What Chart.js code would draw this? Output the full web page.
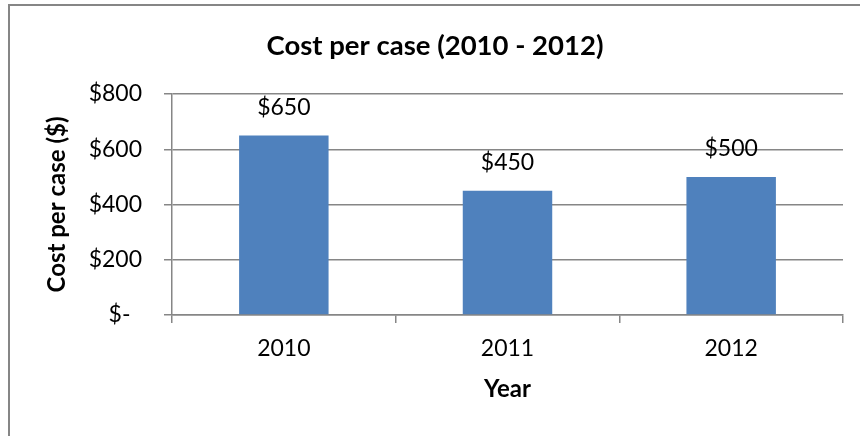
<!DOCTYPE html>
<html>
<head>
<meta charset="utf-8">
<script src="https://cdn.jsdelivr.net/npm/chart.js@4.4.1/dist/chart.umd.min.js"></script>
<style>
  html, body { margin: 0; padding: 0; background: #fff; }
  canvas { display: block; }
</style>
</head>
<body>
<canvas id="c" width="860" height="436"></canvas>
<script>
const years = ['2010', '2011', '2012'];
const costPerCase = [650, 450, 500];
const yTickValues = [0, 200, 400, 600, 800];

const FONT = "Lato, 'Open Sans', sans-serif";
const LINE = '#868686';
const BAR = '#4F81BD';

function money(v) {
  return v === 0 ? '$-\u2002' : '$' + v;
}

// white background plus the chart frame (left and top edges fall inside the canvas)
const frame = {
  id: 'frame',
  beforeDraw(chart) {
    const ctx = chart.ctx;
    ctx.save();
    ctx.fillStyle = '#fff';
    ctx.fillRect(0, 0, chart.width, chart.height);
    ctx.strokeStyle = LINE;
    ctx.lineWidth = 2;
    ctx.strokeRect(9, 5, chart.width + 20, chart.height + 20);
    ctx.restore();
  }
};

// value labels above each bar
const valueLabels = {
  id: 'valueLabels',
  afterDatasetsDraw(chart) {
    const ctx = chart.ctx;
    const meta = chart.getDatasetMeta(0);
    const data = chart.data.datasets[0].data;
    ctx.save();
    ctx.font = '23px ' + FONT;
    ctx.fillStyle = '#000';
    ctx.textAlign = 'center';
    ctx.textBaseline = 'middle';
    meta.data.forEach((bar, i) => {
      ctx.fillText(money(data[i]), bar.x, bar.y - 28);
    });
    ctx.restore();
  }
};

Chart.defaults.color = '#000';
Chart.defaults.font.family = FONT;

new Chart(document.getElementById('c'), {
  type: 'bar',
  data: {
    labels: years,
    datasets: [{
      data: costPerCase,
      backgroundColor: BAR,
      borderWidth: 0,
      categoryPercentage: 1,
      barPercentage: 0.4
    }]
  },
  options: {
    responsive: false,
    animation: false,
    layout: { padding: { left: 27, right: 17, top: 6, bottom: 20 } },
    plugins: {
      legend: { display: false },
      tooltip: { enabled: false },
      title: {
        display: true,
        text: 'Cost per case (2010 - 2012)',
        color: '#000',
        font: { family: FONT, size: 27.5, weight: 'bold', lineHeight: 1.2 },
        padding: { top: 24, bottom: 31 }
      }
    },
    scales: {
      x: {
        afterFit(scale) { scale.height = 101; },
        grid: {
          drawOnChartArea: false,
          drawTicks: true,
          tickLength: 8,
          color: LINE,
          lineWidth: 1.5
        },
        border: { display: true, color: LINE, width: 1.5 },
        ticks: { font: { size: 23 }, padding: 12, color: '#000' },
        title: {
          display: true,
          text: 'Year',
          color: '#000',
          font: { size: 24, weight: 'bold', lineHeight: 1.2 },
          padding: { top: 0, bottom: 12.6 }
        }
      },
      y: {
        min: 0,
        max: 800,
        afterFit(scale) { scale.width = 145; },
        afterBuildTicks(scale) {
          scale.ticks = yTickValues.map(v => ({ value: v }));
        },
        grid: {
          drawTicks: true,
          tickLength: 8,
          color: LINE,
          lineWidth: 1.5
        },
        border: { display: true, color: LINE, width: 1.5 },
        ticks: {
          font: { size: 23 },
          padding: 22,
          color: '#000',
          callback: (v) => money(v)
        },
        title: {
          display: true,
          text: 'Cost per case ($)',
          color: '#000',
          font: { size: 24, weight: 'bold', lineHeight: 1.2 },
          padding: { top: 15.6, bottom: 0 }
        }
      }
    }
  },
  plugins: [frame, valueLabels]
});
</script>
</body>
</html>
